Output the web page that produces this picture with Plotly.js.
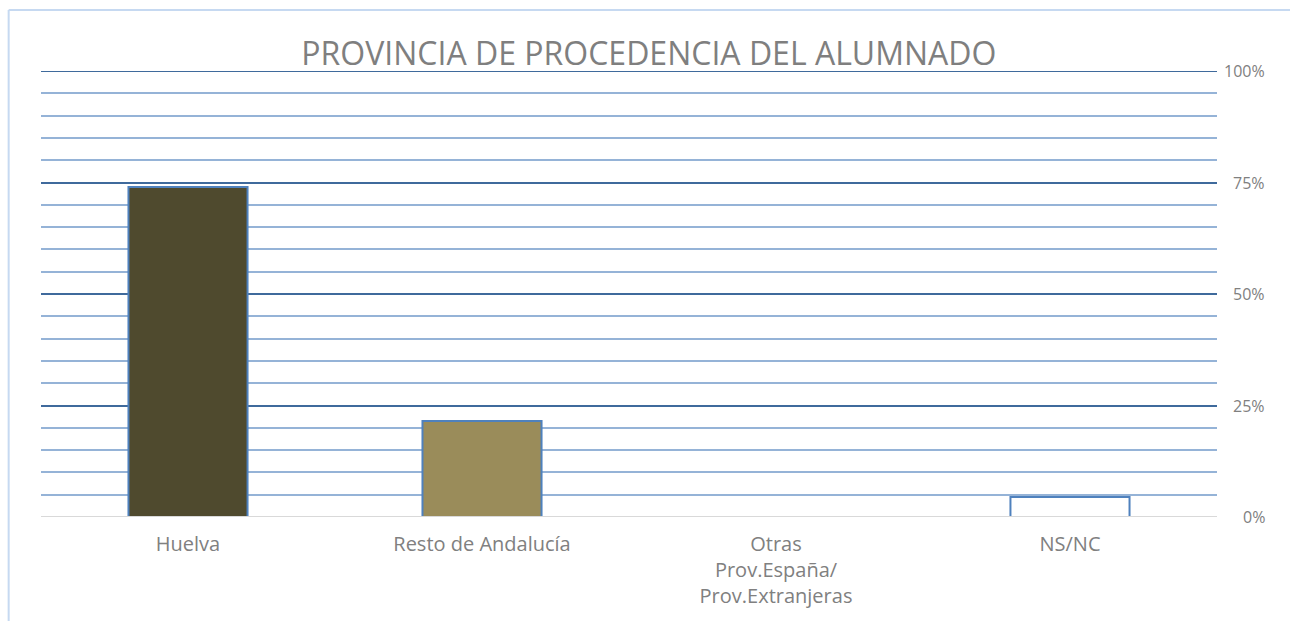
<!DOCTYPE html>
<html>
<head>
<meta charset="utf-8">
<script src="https://cdn.plot.ly/plotly-3.0.1.min.js"></script>
<style>
html,body{margin:0;padding:0;background:#fff;}
#chart{width:1290px;height:621px;}
</style>
</head>
<body>
<div id="chart"></div>
<script>
const categories = ["Huelva", "Resto de Andalucía", "Otras<br>Prov.España/<br>Prov.Extranjeras", "NS/NC"];
const values = [0.74, 0.215, 0, 0.045];
const tickVals = [0, 0.25, 0.5, 0.75, 1];
const tickText = ["0%", "25%", "50%", "75%", "100%"];

const barFill = ["#4f4a2e", "#9a8c5a", "#9a8c5a", "#ffffff"];

const trace = {
  type: "bar",
  x: categories,
  y: values,
  width: 0.405,
  marker: {color: barFill, line: {color: "#4f81bd", width: 2}},
  hoverinfo: "x+y"
};

const FONT = "Open Sans, Noto Sans, sans-serif";

const yLabels = tickVals.map((v, i) => ({
  xref: "paper", yref: "y", x: 1.0425, y: v,
  xanchor: "right", yanchor: "middle",
  text: tickText[i], showarrow: false,
  font: {size: 16, color: "#808080", family: FONT}
}));

const layout = {
  width: 1290, height: 621,
  margin: {l: 41, r: 73, t: 71, b: 104},
  paper_bgcolor: "#ffffff", plot_bgcolor: "#ffffff",
  showlegend: false,
  font: {family: FONT, color: "#808080"},
  title: {
    text: "PROVINCIA DE PROCEDENCIA DEL ALUMNADO",
    font: {size: 32, color: "#7f7f7f", family: FONT},
    x: 0.503, xanchor: "center", y: 0.914, yanchor: "middle"
  },
  xaxis: {
    type: "category",
    showgrid: false, zeroline: false, showline: false,
    ticks: "",
    tickfont: {size: 20, color: "#808080"},
    ticklabelstandoff: 13,
    fixedrange: true
  },
  yaxis: {
    side: "right",
    range: [0, 1],
    tickvals: tickVals,
    showticklabels: false,
    showgrid: true,
    gridcolor: "#3f6a9c",
    gridwidth: 2,
    zeroline: false,
    showline: false,
    ticks: "",
    minor: {dtick: 0.05, showgrid: true, gridcolor: "#95b3d7", gridwidth: 2},
    fixedrange: true
  },
  annotations: yLabels,
  shapes: [
    {type: "line", xref: "paper", yref: "y", x0: 0, x1: 1, y0: 0, y1: 0,
     line: {color: "#d9d9d9", width: 2}, layer: "above"},
    {type: "line", xref: "paper", yref: "y", x0: 0, x1: 1, y0: 1, y1: 1,
     line: {color: "#3f6a9c", width: 2}, layer: "below"},
    {type: "line", xref: "paper", yref: "paper", x0: -0.0275, x1: 1.1, y0: 1.137, y1: 1.137,
     line: {color: "#c6d9f1", width: 2}},
    {type: "line", xref: "paper", yref: "paper", x0: -0.0275, x1: -0.0275, y0: 1.137, y1: -0.25,
     line: {color: "#c6d9f1", width: 2}}
  ]
};

Plotly.newPlot("chart", [trace], layout, {displayModeBar: false, staticPlot: true});
</script>
</body>
</html>
